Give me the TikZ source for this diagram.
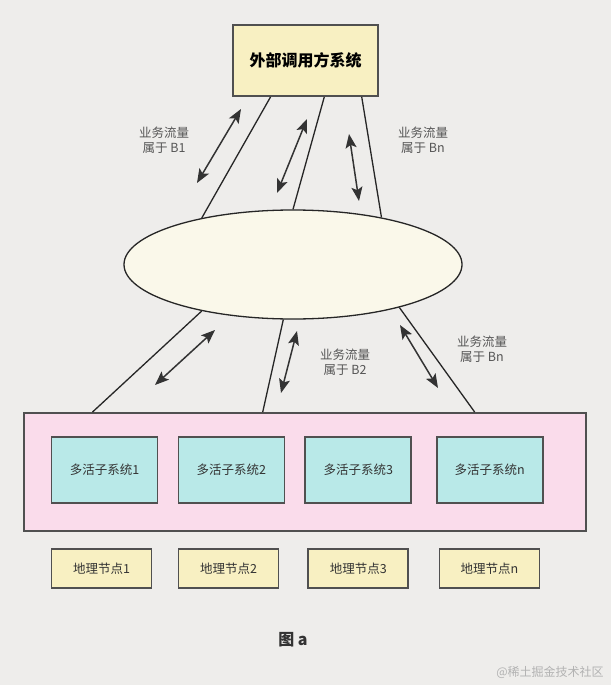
\documentclass[tikz,border=0pt]{standalone}
\usepackage{fontspec}
\setmainfont{Noto Sans CJK SC}
\usepackage{tikz}
\usetikzlibrary{arrows.meta,calc,shapes.geometric}

\definecolor{bggray}{HTML}{EEEDEB}
\definecolor{boxyellow}{HTML}{F8F0C2}
\definecolor{cloudcream}{HTML}{FAF8EA}
\definecolor{poolpink}{HTML}{FADCEB}
\definecolor{syscyan}{HTML}{B9E9E8}
\definecolor{edgegray}{HTML}{505050}
\definecolor{labelgray}{HTML}{555555}

\tikzset{
  boxline/.style={draw=edgegray, line width=1.8pt},
  sysbox/.style={boxline, fill=syscyan, minimum width=106pt, minimum height=66pt,
    font=\fontsize{12.5}{14}\selectfont, text=black!80},
  geobox/.style={boxline, fill=boxyellow, minimum width=100pt, minimum height=39pt,
    font=\fontsize{12.5}{14}\selectfont, text=black!80},
  link/.style={draw=black!85, line width=1.3pt},
  flow/.style={draw=black!80, line width=1.5pt,
    {Stealth[length=14pt,width=11pt,inset=3pt]}-{Stealth[length=14pt,width=11pt,inset=3pt]}},
  flowtext/.style={align=center, text=labelgray, font=\fontsize{12.5}{15.5}\selectfont}
}

\begin{document}
\begin{tikzpicture}[x=1pt,y=-1pt]
    \fill [bggray] (0,0) rectangle (611,685);
    % top system and the gateway
    \node [boxline, fill=boxyellow, minimum width=145pt, minimum height=71pt,
        font=\fontsize{16}{18}\selectfont\bfseries] (ext) at (305.5,60.5) {外部调用方系统};
    \node [draw=black!85, line width=1.3pt, fill=cloudcream, ellipse,
        minimum width=338pt, minimum height=109pt, inner sep=0pt] (gw) at (293,264.5) {};
    % pool of active systems
    \node [boxline, fill=poolpink, minimum width=562pt, minimum height=118pt] (pool) at (305,472) {};
    \node [sysbox] (sys1) at (104.5,470) {多活子系统1};
    \node [sysbox] (sys2) at (231.4,470) {多活子系统2};
    \node [sysbox] (sys3) at (358.3,470) {多活子系统3};
    \node [sysbox] (sysn) at (489.6,470) {多活子系统n};
    \node [geobox] (geo1) at (101.5,568.5) {地理节点1};
    \node [geobox] (geo2) at (228.5,568.5) {地理节点2};
    \node [geobox] (geo3) at (358.3,568.5) {地理节点3};
    \node [geobox] (geon) at (489.4,568.5) {地理节点n};
    % links
    \draw [link] ($(ext.south west)!0.262!(ext.south east)$) -- (gw.153);
    \draw [link] ($(ext.south west)!0.628!(ext.south east)$) -- (gw.90);
    \draw [link] ($(ext.south west)!0.883!(ext.south east)$) -- (gw.28.4);
    \draw [link] (gw.207) -- ($(pool.north west)!0.123!(pool.north east)$);
    \draw [link] (gw.260) -- ($(pool.north west)!0.425!(pool.north east)$);
    \draw [link] (gw.338.6) -- ($(pool.north west)!0.801!(pool.north east)$);
    % traffic arrows
    \coordinate (up1a) at (197,183);  \coordinate (up1b) at (241,109);
    \coordinate (up2a) at (277,193);  \coordinate (up2b) at (307,119);
    \coordinate (up3a) at (349,134);  \coordinate (up3b) at (359,201);
    \coordinate (dn1a) at (155,385);  \coordinate (dn1b) at (215,330);
    \coordinate (dn2a) at (281,393);  \coordinate (dn2b) at (297,331);
    \coordinate (dn3a) at (400,325);  \coordinate (dn3b) at (438,388);
    \draw [flow] (up1a) -- (up1b);
    \draw [flow] (up2a) -- (up2b);
    \draw [flow] (up3a) -- (up3b);
    \draw [flow] (dn1a) -- (dn1b);
    \draw [flow] (dn2a) -- (dn2b);
    \draw [flow] (dn3a) -- (dn3b);
    \node [flowtext] (lab1) at (164,140) {业务流量\\属于 B1};
    \node [flowtext] (lab2) at (423,140) {业务流量\\属于 Bn};
    \node [flowtext] (lab3) at (345,362) {业务流量\\属于 B2};
    \node [flowtext] (lab4) at (482,349) {业务流量\\属于 Bn};
    % caption
    \node [font=\fontsize{16}{18}\selectfont\bfseries, text=black!80] (cap) at (293,640) {图 a};
    \node [font=\fontsize{12}{14}\selectfont, text=black!30] (mark) at (550,672) {@稀土掘金技术社区};
\end{tikzpicture}
\end{document}
